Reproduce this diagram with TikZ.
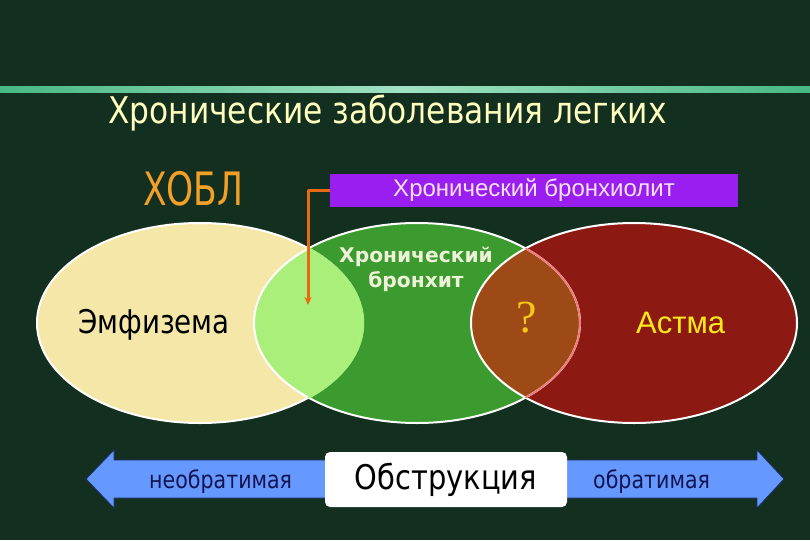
\documentclass[tikz,border=0pt]{standalone}
\usepackage{fontspec}
\setmainfont{DejaVu Sans}
\newfontfamily\condfont[FakeStretch=0.85]{DejaVu Sans}
\newfontfamily\narrowfont[FakeStretch=0.75]{DejaVu Sans}
\newfontfamily\arialfont{Liberation Sans}
\newfontfamily\timesfont{Liberation Serif}
\usetikzlibrary{arrows.meta, positioning}
\usepackage{xcolor}
\definecolor{bgdark}{RGB}{19,47,32}
\definecolor{rulegreen}{RGB}{72,184,132}
\definecolor{rulelight}{RGB}{160,226,196}
\definecolor{titleyellow}{RGB}{255,255,190}
\definecolor{copdorange}{RGB}{242,160,40}
\definecolor{boxpurple}{RGB}{155,30,240}
\definecolor{boxtext}{RGB}{248,226,248}
\definecolor{emphcol}{RGB}{245,231,168}
\definecolor{mixgreen}{RGB}{169,239,122}
\definecolor{bronchcol}{RGB}{60,155,46}
\definecolor{bronchtext}{RGB}{238,242,216}
\definecolor{asthmacol}{RGB}{140,26,18}
\definecolor{mixbrown}{RGB}{158,74,23}
\definecolor{pinkline}{RGB}{240,120,120}
\definecolor{qyellow}{RGB}{245,197,24}
\definecolor{asthmayellow}{RGB}{255,232,26}
\definecolor{arrowblue}{RGB}{102,153,255}
\definecolor{arrowedge}{RGB}{28,44,102}
\definecolor{navytext}{RGB}{20,20,80}
\definecolor{linkorange}{RGB}{232,106,16}

\begin{document}
\begin{tikzpicture}[
        x=1pt, y=-1pt,
        line join=bevel,
        plaintext/.style={inner sep=0pt, anchor=base west},
        titletext/.style={plaintext, text=titleyellow, font=\condfont\fontsize{36.8}{40}\selectfont},
        copdtext/.style={plaintext, text=copdorange, font=\narrowfont\fontsize{46}{48}\selectfont},
        purplebox/.style={fill=boxpurple, minimum width=408pt, minimum height=33pt, inner sep=0pt, text=boxtext, font=\arialfont\fontsize{24}{26}\selectfont},
        sidetext/.style={plaintext, text=navytext, font=\condfont\fontsize{24.2}{28}\selectfont},
        whitebox/.style={fill=white, rounded corners=5pt, minimum width=242pt, minimum height=55pt, inner sep=0pt, font=\condfont\fontsize{34}{36}\selectfont},
        ovalline/.style={white, line width=2pt},
        linkarrow/.style={linkorange, line width=3pt, -{Stealth[length=8pt, width=7pt]}}
    ]
        % Background
        \fill[bgdark] (0,0) rectangle (810,540);
        \useasboundingbox (0,0) rectangle (810,540);
        \shade[left color=rulegreen, right color=rulegreen, middle color=rulelight] (0,87) rectangle (810,93);
        % Headings
        \node[titletext] (title) at (108,124) {Хронические заболевания легких};
        \node[copdtext] (copd) at (143,205) {ХОБЛ};
        \node[purplebox] (brl) at (534,190.5) {Хронический бронхиолит};
        % Ovals
        \coordinate (ce) at (200,323);
        \coordinate (cb) at (417,323);
        \coordinate (ca) at (634,323);
        \fill[emphcol] (ce) ellipse (163pt and 100pt);
        \fill[bronchcol] (cb) ellipse (163pt and 100pt);
        \fill[asthmacol] (ca) ellipse (163pt and 100pt);
        \begin{scope}
            \clip (ce) ellipse (163pt and 100pt);
            \fill[mixgreen] (cb) ellipse (163pt and 100pt);
        \end{scope}
        \begin{scope}
            \clip (ca) ellipse (163pt and 100pt);
            \fill[mixbrown] (cb) ellipse (163pt and 100pt);
        \end{scope}
        \draw[ovalline] (ce) ellipse (163pt and 100pt);
        \draw[ovalline] (cb) ellipse (163pt and 100pt);
        \draw[ovalline] (ca) ellipse (163pt and 100pt);
        \begin{scope}
            \clip (cb) ellipse (163pt and 100pt);
            \draw[mixgreen, line width=2.4pt] (ce) ellipse (163pt and 100pt);
        \end{scope}
        \begin{scope}
            \clip (ca) ellipse (163pt and 100pt);
            \draw[pinkline, line width=1.8pt] (cb) ellipse (163pt and 100pt);
        \end{scope}
        % Oval labels
        \node[plaintext, text=black, font=\condfont\fontsize{32.6}{34}\selectfont] (emph) at (78,333) {Эмфизема};
        \node[inner sep=0pt, align=center, text=bronchtext, font=\bfseries\fontsize{20.2}{25}\selectfont] (brc) at (416,269) {Хронический\\бронхит};
        \node[inner sep=0pt, text=qyellow, font=\timesfont\fontsize{46}{50}\selectfont] (q) at (527,318) {?};
        \node[plaintext, text=asthmayellow, font=\arialfont\fontsize{31}{34}\selectfont] (asthma) at (636,333) {Астма};
        % Link
        \coordinate (drop) at (308,305);
        \draw[linkarrow] (brl.west) -| (drop);
        % Bottom scale
        \fill[arrowblue, draw=arrowedge, line width=0.8pt] (86,479) -- (114,450) -- (114,460) -- (757,460) -- (757,450)
            -- (784,479) -- (757,508) -- (757,498) -- (114,498) -- (114,508) -- cycle;
        \node[whitebox] (obs) at (446,479.5) {Обструкция};
        \node[sidetext] (irrev) at (149,488) {необратимая};
        \node[sidetext] (rev) at (593,488) {обратимая};
    \end{tikzpicture}
\end{document}
